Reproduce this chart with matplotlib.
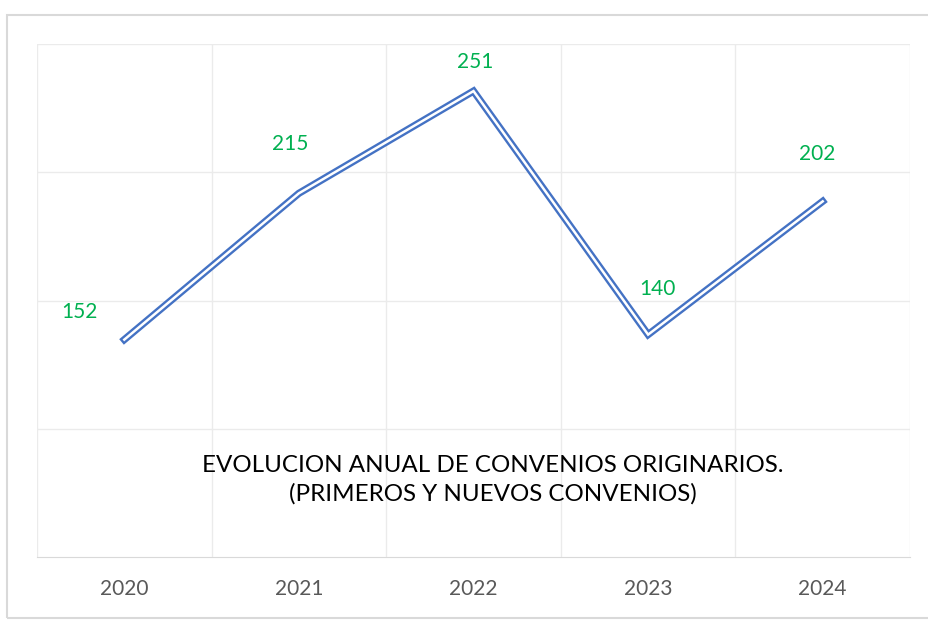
import matplotlib
matplotlib.use("Agg")
import matplotlib.pyplot as plt
from matplotlib.patches import Rectangle

years = ["2020", "2021", "2022", "2023", "2024"]
# height of the plotted line (axis 0-400, gridline every 100)
line_values = [169.5, 283.6, 363.3, 173.4, 277.3]
# numbers written as data labels
label_values = [152, 215, 251, 140, 202]
# where each label sits relative to its point (pixels)
label_offsets = [(-45, 28), (-9, 49), (2, 29), (9, 46), (-6, 47)]

FONT = ["Lato", "DejaVu Sans"]
BLUE = "#4472C4"
GREEN = "#00B050"

fig = plt.figure(figsize=(9.29, 6.23), dpi=100, facecolor="white")
ax = fig.add_axes([37 / 929, 66 / 623, 873 / 929, 513 / 623])

# outer chart border
fig.patches.append(Rectangle((7 / 929, 5 / 623), 930 / 929, 603 / 623,
                             transform=fig.transFigure, fill=False,
                             edgecolor="#D9D9D9", linewidth=1.5))

x = list(range(len(years)))
ax.set_xlim(-0.5, len(years) - 0.5)
ax.set_ylim(0, 400)
ax.set_yticks([0, 100, 200, 300, 400])
ax.set_xticks(x)
ax.set_xticklabels(years, fontsize=15, color="#595959", family=FONT)
ax.set_yticklabels([])
ax.tick_params(length=0, pad=16)

for v in [100, 200, 300, 400]:
    ax.axhline(v, color="#EBEBEB", linewidth=1, zorder=0)
for b in [i - 0.5 for i in range(len(years) + 1)]:
    ax.axvline(b, color="#EBEBEB", linewidth=1, zorder=0)
for s in ["top", "left", "right"]:
    ax.spines[s].set_visible(False)
ax.spines["bottom"].set_color("#D9D9D9")

# double ("compound") line: thick blue with a thin white core
ax.plot(x, line_values, color=BLUE, linewidth=5.2, solid_joinstyle="miter", zorder=3)
ax.plot(x, line_values, color="white", linewidth=1.8, solid_joinstyle="miter", zorder=4)

for xi, yi, lab, off in zip(x, line_values, label_values, label_offsets):
    ax.annotate(str(lab), (xi, yi), xytext=off, textcoords="offset pixels",
                ha="center", va="center", fontsize=15, color=GREEN, family=FONT)

ax.text(0.522, 0.15, "EVOLUCION ANUAL DE CONVENIOS ORIGINARIOS.\n(PRIMEROS Y NUEVOS CONVENIOS)",
        transform=ax.transAxes, ha="center", va="center", multialignment="center",
        fontsize=17.4, color="black", family=FONT, linespacing=1.4)

fig.savefig("out.png", dpi=100, facecolor="white")
